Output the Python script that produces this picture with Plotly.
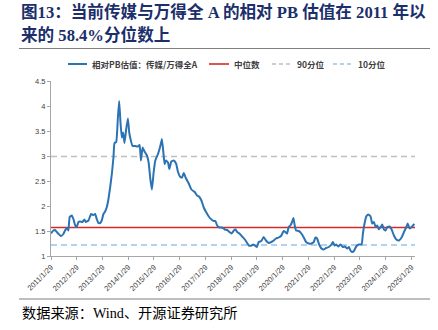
import plotly.graph_objects as go

# ---------------- data ----------------
dates = [
    "2011-01-29", "2011-03-03", "2011-03-27", "2011-05-04", "2011-06-20", "2011-07-23",
    "2011-08-16", "2011-09-09", "2011-10-02", "2011-10-21", "2011-11-19", "2011-12-13",
    "2012-01-05", "2012-01-29", "2012-02-22", "2012-03-16", "2012-04-19", "2012-05-17",
    "2012-06-05", "2012-07-13", "2012-08-20", "2012-09-22", "2012-10-16", "2012-11-08",
    "2012-12-02", "2012-12-26", "2013-01-18", "2013-02-11", "2013-03-07", "2013-03-31",
    "2013-04-23", "2013-05-17", "2013-06-10", "2013-07-03", "2013-07-18", "2013-08-11",
    "2013-09-03", "2013-09-22", "2013-10-11", "2013-10-30", "2013-11-18", "2013-12-07",
    "2013-12-31", "2014-01-24", "2014-02-12", "2014-03-02", "2014-03-31", "2014-05-08",
    "2014-06-15", "2014-07-09", "2014-07-28", "2014-08-21", "2014-09-13", "2014-10-21",
    "2014-11-14", "2014-12-08", "2014-12-31", "2015-01-24", "2015-02-17", "2015-03-27",
    "2015-04-29", "2015-05-22", "2015-06-15", "2015-06-29", "2015-07-18", "2015-08-16",
    "2015-09-04", "2015-10-02", "2015-11-04", "2015-12-08", "2016-01-05", "2016-02-07",
    "2016-03-02", "2016-03-26", "2016-04-28", "2016-06-05", "2016-07-13", "2016-08-29",
    "2016-10-01", "2016-11-04", "2016-12-02", "2017-01-04", "2017-02-06", "2017-03-16",
    "2017-04-23", "2017-05-26", "2017-06-19", "2017-07-13", "2017-08-15", "2017-09-22",
    "2017-10-30", "2017-12-02", "2018-01-04", "2018-02-02", "2018-03-07", "2018-03-31",
    "2018-04-23", "2018-05-26", "2018-07-03", "2018-08-10", "2018-09-12", "2018-10-06",
    "2018-11-13", "2018-12-07", "2018-12-31", "2019-01-28", "2019-02-22", "2019-04-01",
    "2019-05-04", "2019-06-06", "2019-07-14", "2019-08-21", "2019-09-23", "2019-10-26",
    "2019-12-03", "2020-01-10", "2020-02-12", "2020-03-07", "2020-03-31", "2020-04-23",
    "2020-05-17", "2020-06-10", "2020-06-29", "2020-07-18", "2020-08-06", "2020-09-13",
    "2020-10-20", "2020-11-23", "2020-12-26", "2021-02-02", "2021-03-12", "2021-04-14",
    "2021-05-08", "2021-05-31", "2021-06-24", "2021-08-01", "2021-09-03", "2021-10-06",
    "2021-11-13", "2021-12-21", "2022-01-09", "2022-02-06", "2022-02-25", "2022-03-26",
    "2022-04-28", "2022-05-31", "2022-06-29", "2022-08-01", "2022-08-25", "2022-09-17",
    "2022-10-11", "2022-11-04", "2022-12-07", "2023-01-14", "2023-02-21", "2023-03-12",
    "2023-04-04", "2023-04-28", "2023-05-26", "2023-06-29", "2023-07-22", "2023-08-15",
    "2023-09-08", "2023-10-01", "2023-10-25", "2023-11-18", "2023-12-12", "2024-01-04",
    "2024-01-28", "2024-02-21", "2024-03-25", "2024-04-22", "2024-05-25", "2024-06-28",
    "2024-08-05", "2024-09-11", "2024-10-15", "2024-11-17", "2024-12-06", "2025-01-03",
    "2025-02-01", "2025-03-10",
]
relative_pb = [
    1.45, 1.51, 1.52, 1.46, 1.40, 1.44,
    1.51, 1.56, 1.51, 1.78, 1.81, 1.74,
    1.62, 1.58, 1.68, 1.69, 1.68, 1.73,
    1.68, 1.71, 1.84, 1.82, 1.84, 1.74,
    1.66, 1.66, 1.71, 1.84, 1.89, 1.98,
    2.14, 2.37, 2.64, 2.97, 3.26, 3.28,
    3.74, 4.10, 3.67, 3.37, 3.47, 3.26,
    3.54, 3.75, 3.47, 3.34, 3.20, 3.20,
    3.19, 3.22, 2.91, 3.17, 3.10, 3.01,
    2.87, 2.54, 2.33, 2.67, 2.91, 3.04,
    3.20, 3.34, 3.01, 2.84, 2.91, 2.87,
    2.74, 2.89, 2.91, 2.85, 2.68, 2.58,
    2.57, 2.66, 2.55, 2.45, 2.33, 2.28,
    2.21, 2.18, 2.11, 1.97, 1.88, 1.79,
    1.73, 1.70, 1.70, 1.61, 1.57, 1.57,
    1.53, 1.52, 1.48, 1.45, 1.51, 1.53,
    1.48, 1.45, 1.39, 1.33, 1.26, 1.21,
    1.21, 1.23, 1.21, 1.18, 1.28, 1.30,
    1.38, 1.31, 1.26, 1.28, 1.31, 1.35,
    1.37, 1.41, 1.50, 1.48, 1.45, 1.58,
    1.61, 1.68, 1.76, 1.61, 1.51, 1.50,
    1.45, 1.37, 1.28, 1.25, 1.25, 1.28,
    1.37, 1.35, 1.25, 1.15, 1.13, 1.16,
    1.18, 1.23, 1.28, 1.21, 1.23, 1.19,
    1.23, 1.18, 1.19, 1.15, 1.18, 1.11,
    1.08, 1.10, 1.19, 1.23, 1.23, 1.45,
    1.65, 1.79, 1.83, 1.79, 1.65, 1.68,
    1.58, 1.61, 1.53, 1.58, 1.63, 1.53,
    1.51, 1.58, 1.59, 1.53, 1.41, 1.33,
    1.31, 1.37, 1.48, 1.58, 1.65, 1.55,
    1.58, 1.64,
]
median_value = 1.57
p90_value = 2.99
p10_value = 1.22

tick_dates = [f"{y}-01-29" for y in range(2011, 2026)]
tick_labels = [f"{y}/1/29" for y in range(2011, 2026)]

series_names = ["相对PB估值：传媒/万得全A", "中位数", "90分位", "10分位"]
title_lines = ["图13：当前传媒与万得全 A 的相对 PB 估值在 2011 年以", "来的 58.4%分位数上"]
source_text = "数据来源：Wind、开源证券研究所"

# ---------------- styles ----------------
BLUE = "#2B73B3"
RED = "#D42A2A"
GRAY_D = "#BFBFBF"
BLUE_D = "#9DC3E6"
TITLE_C = "#1B2F6B"

W, H = 438, 330
L, R, T, B = 51, 23, 81, 74
PW, PH = W - L - R, H - T - B


def px(x):
    return (x - L) / PW


def py(y):
    return (H - B - y) / PH


fig = go.Figure()
x_end = "2025-03-20"
fig.add_trace(go.Scatter(x=[dates[0], x_end], y=[p90_value, p90_value], mode="lines",
                         line=dict(color=GRAY_D, width=1.5, dash="6px,4px"), showlegend=False))
fig.add_trace(go.Scatter(x=[dates[0], x_end], y=[p10_value, p10_value], mode="lines",
                         line=dict(color=BLUE_D, width=1.5, dash="6px,4px"), showlegend=False))
fig.add_trace(go.Scatter(x=[dates[0], x_end], y=[median_value, median_value], mode="lines",
                         line=dict(color=RED, width=1.6), showlegend=False))
fig.add_trace(go.Scatter(x=dates, y=relative_pb, mode="lines",
                         line=dict(color=BLUE, width=2, shape="spline", smoothing=0.4),
                         showlegend=False))

annotations = []
shapes = []

# title
tfont = dict(family="Liberation Serif, Noto Sans CJK SC", size=16.6, color=TITLE_C)
for line, yy in zip(title_lines, [12, 35]):
    annotations.append(dict(text=f"<b>{line}</b>", x=px(19), y=py(yy), xref="paper", yref="paper",
                            xanchor="left", yanchor="middle", showarrow=False, font=tfont))
# separators
for yy in [48.5, 299]:
    shapes.append(dict(type="line", xref="paper", yref="paper", x0=px(19), x1=px(430),
                       y0=py(yy), y1=py(yy), line=dict(color="#7F7F7F", width=1.2)))

# legend
leg_items = [
    (series_names[0], 68, 87, 90, BLUE, "solid", 2),
    (series_names[1], 209, 229, 232, RED, "solid", 1.6),
    (series_names[2], 272, 292, 295, GRAY_D, "4px,3px", 1.5),
    (series_names[3], 333, 353, 356, BLUE_D, "4px,3px", 1.5),
]
for name, x0, x1, xt, col, dash, wd in leg_items:
    shapes.append(dict(type="line", xref="paper", yref="paper", x0=px(x0), x1=px(x1),
                       y0=py(64), y1=py(64), line=dict(color=col, width=wd, dash=dash)))
    annotations.append(dict(text=f"<b>{name}</b>", x=px(xt), y=py(64), xref="paper", yref="paper",
                            xanchor="left", yanchor="middle", showarrow=False,
                            font=dict(family="Noto Sans CJK SC", size=8.5, color="#404040")))

# source
annotations.append(dict(text=source_text, x=px(20), y=py(313), xref="paper", yref="paper",
                        xanchor="left", yanchor="middle", showarrow=False,
                        font=dict(family="Liberation Serif, Noto Sans CJK SC", size=14.2, color="#000000")))

fig.update_layout(
    width=W, height=H,
    margin=dict(l=L, r=R, t=T, b=B, pad=0),
    paper_bgcolor="white", plot_bgcolor="white",
    annotations=annotations, shapes=shapes,
    showlegend=False,
    xaxis=dict(type="date", range=["2011-01-29", x_end], tickvals=tick_dates, ticktext=tick_labels,
               tickangle=-45, showgrid=False, zeroline=False, showline=True, linecolor="#A6A6A6",
               linewidth=1, ticks="outside", ticklen=3, tickcolor="#A6A6A6",
               tickfont=dict(family="Liberation Sans, Arial", size=7.5, color="#404040")),
    yaxis=dict(range=[1, 4.5], dtick=0.5, tick0=1, showgrid=False, zeroline=False, showline=True,
               linecolor="#A6A6A6", linewidth=1, ticks="outside", ticklen=3, tickcolor="#A6A6A6",
               tickfont=dict(family="Liberation Sans, Arial", size=7.5, color="#404040")),
)

fig.write_html("out.html")
